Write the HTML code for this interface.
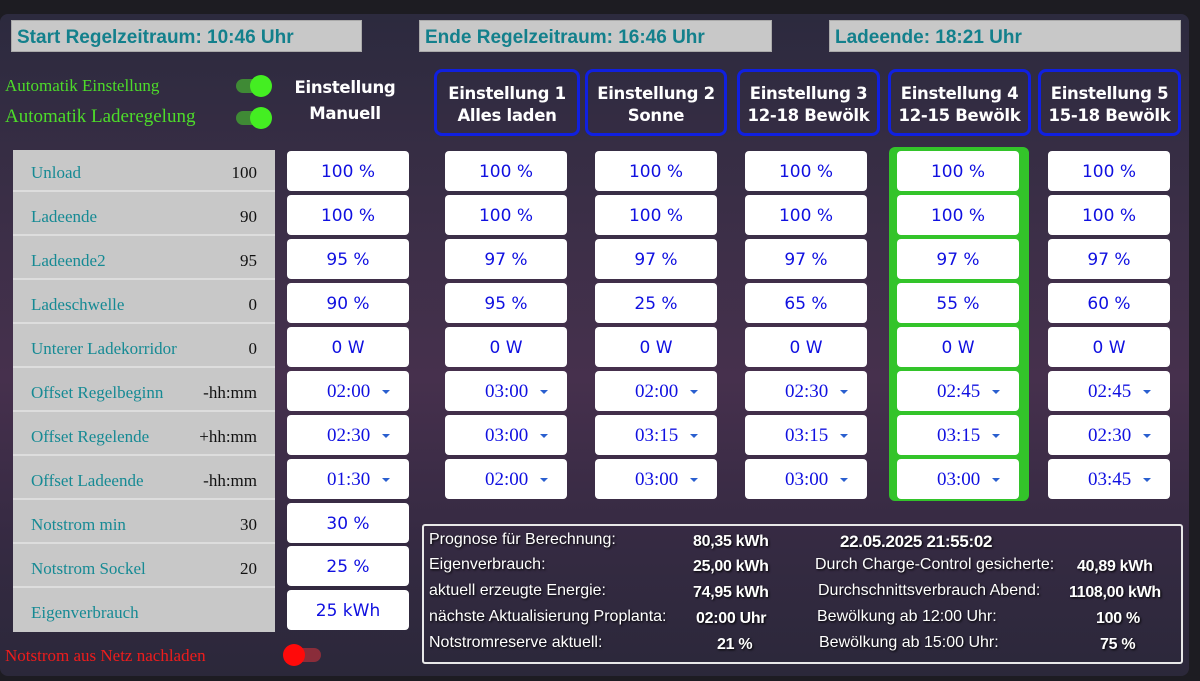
<!DOCTYPE html>
<html><head><meta charset="utf-8"><style>
*{margin:0;padding:0;box-sizing:border-box}
body{width:1200px;height:681px;background:#1d1c22;position:relative;overflow:hidden;font-family:"Liberation Sans",sans-serif}
.panel{position:absolute;left:0;top:14px;width:1189px;height:662px;border-radius:8px;background:linear-gradient(180deg,#2c2a3e 0%,#3d2f48 35%,#46304d 55%,#352a42 80%,#2b283a 100%)}
.a{position:absolute}
.top{position:absolute;top:20px;height:32px;background:#c8c8c8;border:1px solid #aaa;color:#13808c;font-weight:bold;font-size:19px;line-height:34px;padding-left:5px}
.hd{position:absolute;top:69px;height:67px;border:3px solid #1020e0;border-radius:8px;color:#fff;font-family:"DejaVu Sans",sans-serif;font-weight:bold;font-size:16.5px;letter-spacing:-0.3px;text-align:center;line-height:22px;padding-top:11px}
.box{position:absolute;width:122px;height:40px;background:#fff;border-radius:4px;color:#1010e0;font-family:"DejaVu Sans",sans-serif;font-size:17px;text-align:center;line-height:42px}
.t{font-family:"Liberation Serif",serif;font-size:19px;text-align:left;padding-left:40px}
.t:after{content:"";position:absolute;right:19px;top:19px;border-left:4px solid transparent;border-right:4px solid transparent;border-top:4px solid #2a5fcf}
.lab{position:absolute;left:13px;width:262px;height:42px;background:#c8c8c8;border-bottom:2px solid #ddd;font-family:"Liberation Serif",serif;font-size:17px;line-height:45px;color:#168a94;padding-left:18px}
.lab span{position:absolute;right:18px;color:#111}
.inf{position:absolute;color:#fff;font-size:16px;text-shadow:1px 1px 2px #000}
.b{font-weight:bold;letter-spacing:-0.3px}
.tg{position:absolute;width:30px;height:14px;border-radius:7px}
.tg i{position:absolute;top:-4px;width:22px;height:22px;border-radius:11px}
</style></head><body>
<div class="panel"></div>
<div class="top" style="left:11px;width:351px">Start Regelzeitraum: 10:46 Uhr</div>
<div class="top" style="left:419px;width:353px">Ende Regelzeitraum: 16:46 Uhr</div>
<div class="top" style="left:829px;width:352px">Ladeende: 18:21 Uhr</div>

<div class="a" style="left:5px;top:76px;color:#4ddc2a;font-family:'Liberation Serif',serif;font-size:17px">Automatik Einstellung</div>
<div class="a" style="left:5px;top:106px;color:#4ddc2a;font-family:'Liberation Serif',serif;font-size:19px">Automatik Laderegelung</div>
<div class="tg" style="left:236px;top:79px;background:#3f8a35"><i style="left:14px;background:#44ee22"></i></div>
<div class="tg" style="left:236px;top:111px;background:#3f8a35"><i style="left:14px;background:#44ee22"></i></div>
<div class="a" style="left:285px;top:75px;width:120px;text-align:center;color:#fff;font-family:'DejaVu Sans',sans-serif;font-weight:bold;font-size:16.5px;letter-spacing:-0.3px;line-height:26px">Einstellung<br>Manuell</div>

<div class="hd" style="left:434px;width:146px">Einstellung 1<br>Alles laden</div>
<div class="hd" style="left:585px;width:142px">Einstellung 2<br>Sonne</div>
<div class="hd" style="left:737px;width:143px">Einstellung 3<br>12-18 Bewölk</div>
<div class="hd" style="left:888px;width:143px">Einstellung 4<br>12-15 Bewölk</div>
<div class="hd" style="left:1038px;width:143px">Einstellung 5<br>15-18 Bewölk</div>

<div class="a" style="left:889px;top:147px;width:140px;height:354px;background:#33c42a;border-radius:6px"></div>

<div class="a" style="left:13px;top:150px;width:262px;height:478px;background:#c8c8c8;border-radius:4px"></div>
<div class="lab" style="top:150px">Unload<span>100</span></div>
<div class="lab" style="top:194px">Ladeende<span>90</span></div>
<div class="lab" style="top:238px">Ladeende2<span>95</span></div>
<div class="lab" style="top:282px">Ladeschwelle<span>0</span></div>
<div class="lab" style="top:326px">Unterer Ladekorridor<span>0</span></div>
<div class="lab" style="top:370px">Offset Regelbeginn<span>-hh:mm</span></div>
<div class="lab" style="top:414px">Offset Regelende<span>+hh:mm</span></div>
<div class="lab" style="top:458px">Offset Ladeende<span>-hh:mm</span></div>
<div class="lab" style="top:502px">Notstrom min<span>30</span></div>
<div class="lab" style="top:546px">Notstrom Sockel<span>20</span></div>
<div class="lab" style="top:590px;border-bottom:none">Eigenverbrauch</div>

<div class="box" style="left:287px;top:151px">100 %</div>
<div class="box" style="left:287px;top:195px">100 %</div>
<div class="box" style="left:287px;top:239px">95 %</div>
<div class="box" style="left:287px;top:283px">90 %</div>
<div class="box" style="left:287px;top:327px">0 W</div>
<div class="box t" style="left:287px;top:371px">02:00</div>
<div class="box t" style="left:287px;top:415px">02:30</div>
<div class="box t" style="left:287px;top:459px">01:30</div>
<div class="box" style="left:287px;top:503px">30 %</div>
<div class="box" style="left:287px;top:546px">25 %</div>
<div class="box" style="left:287px;top:590px">25 kWh</div>

<div class="box" style="left:445px;top:151px">100 %</div>
<div class="box" style="left:445px;top:195px">100 %</div>
<div class="box" style="left:445px;top:239px">97 %</div>
<div class="box" style="left:445px;top:283px">95 %</div>
<div class="box" style="left:445px;top:327px">0 W</div>
<div class="box t" style="left:445px;top:371px">03:00</div>
<div class="box t" style="left:445px;top:415px">03:00</div>
<div class="box t" style="left:445px;top:459px">02:00</div>

<div class="box" style="left:595px;top:151px">100 %</div>
<div class="box" style="left:595px;top:195px">100 %</div>
<div class="box" style="left:595px;top:239px">97 %</div>
<div class="box" style="left:595px;top:283px">25 %</div>
<div class="box" style="left:595px;top:327px">0 W</div>
<div class="box t" style="left:595px;top:371px">02:00</div>
<div class="box t" style="left:595px;top:415px">03:15</div>
<div class="box t" style="left:595px;top:459px">03:00</div>

<div class="box" style="left:745px;top:151px">100 %</div>
<div class="box" style="left:745px;top:195px">100 %</div>
<div class="box" style="left:745px;top:239px">97 %</div>
<div class="box" style="left:745px;top:283px">65 %</div>
<div class="box" style="left:745px;top:327px">0 W</div>
<div class="box t" style="left:745px;top:371px">02:30</div>
<div class="box t" style="left:745px;top:415px">03:15</div>
<div class="box t" style="left:745px;top:459px">03:00</div>

<div class="box" style="left:897px;top:151px">100 %</div>
<div class="box" style="left:897px;top:195px">100 %</div>
<div class="box" style="left:897px;top:239px">97 %</div>
<div class="box" style="left:897px;top:283px">55 %</div>
<div class="box" style="left:897px;top:327px">0 W</div>
<div class="box t" style="left:897px;top:371px">02:45</div>
<div class="box t" style="left:897px;top:415px">03:15</div>
<div class="box t" style="left:897px;top:459px">03:00</div>

<div class="box" style="left:1048px;top:151px">100 %</div>
<div class="box" style="left:1048px;top:195px">100 %</div>
<div class="box" style="left:1048px;top:239px">97 %</div>
<div class="box" style="left:1048px;top:283px">60 %</div>
<div class="box" style="left:1048px;top:327px">0 W</div>
<div class="box t" style="left:1048px;top:371px">02:45</div>
<div class="box t" style="left:1048px;top:415px">02:30</div>
<div class="box t" style="left:1048px;top:459px">03:45</div>

<div class="a" style="left:5px;top:646px;color:#ee1c1c;font-family:'Liberation Serif',serif;font-size:17px">Notstrom aus Netz nachladen</div>
<div class="tg" style="left:291px;top:648px;background:#8a2d3a"><i style="left:-8px;background:#ff0a0a"></i></div>

<div class="a" style="left:422px;top:524px;width:761px;height:140px;border:2px solid #e8e8e8;border-radius:3px"></div>
<div class="inf" style="left:429px;top:531px">Prognose für Berechnung:</div>
<div class="inf b" style="left:693px;top:533px">80,35 kWh</div>
<div class="inf b" style="left:840px;top:532px;font-size:17px">22.05.2025 21:55:02</div>
<div class="inf" style="left:429px;top:556px">Eigenverbrauch:</div>
<div class="inf b" style="left:693px;top:558px">25,00 kWh</div>
<div class="inf" style="left:815px;top:556px">Durch Charge-Control gesicherte:</div>
<div class="inf b" style="left:1077px;top:558px">40,89 kWh</div>
<div class="inf" style="left:429px;top:582px">aktuell erzeugte Energie:</div>
<div class="inf b" style="left:693px;top:584px">74,95 kWh</div>
<div class="inf" style="left:818px;top:582px">Durchschnittsverbrauch Abend:</div>
<div class="inf b" style="left:1069px;top:584px">1108,00 kWh</div>
<div class="inf" style="left:429px;top:608px">nächste Aktualisierung Proplanta:</div>
<div class="inf b" style="left:696px;top:610px">02:00 Uhr</div>
<div class="inf" style="left:817px;top:608px">Bewölkung ab 12:00 Uhr:</div>
<div class="inf b" style="left:1096px;top:610px">100 %</div>
<div class="inf" style="left:429px;top:634px">Notstromreserve aktuell:</div>
<div class="inf b" style="left:717px;top:636px">21 %</div>
<div class="inf" style="left:819px;top:634px">Bewölkung ab 15:00 Uhr:</div>
<div class="inf b" style="left:1100px;top:636px">75 %</div>
</body></html>
